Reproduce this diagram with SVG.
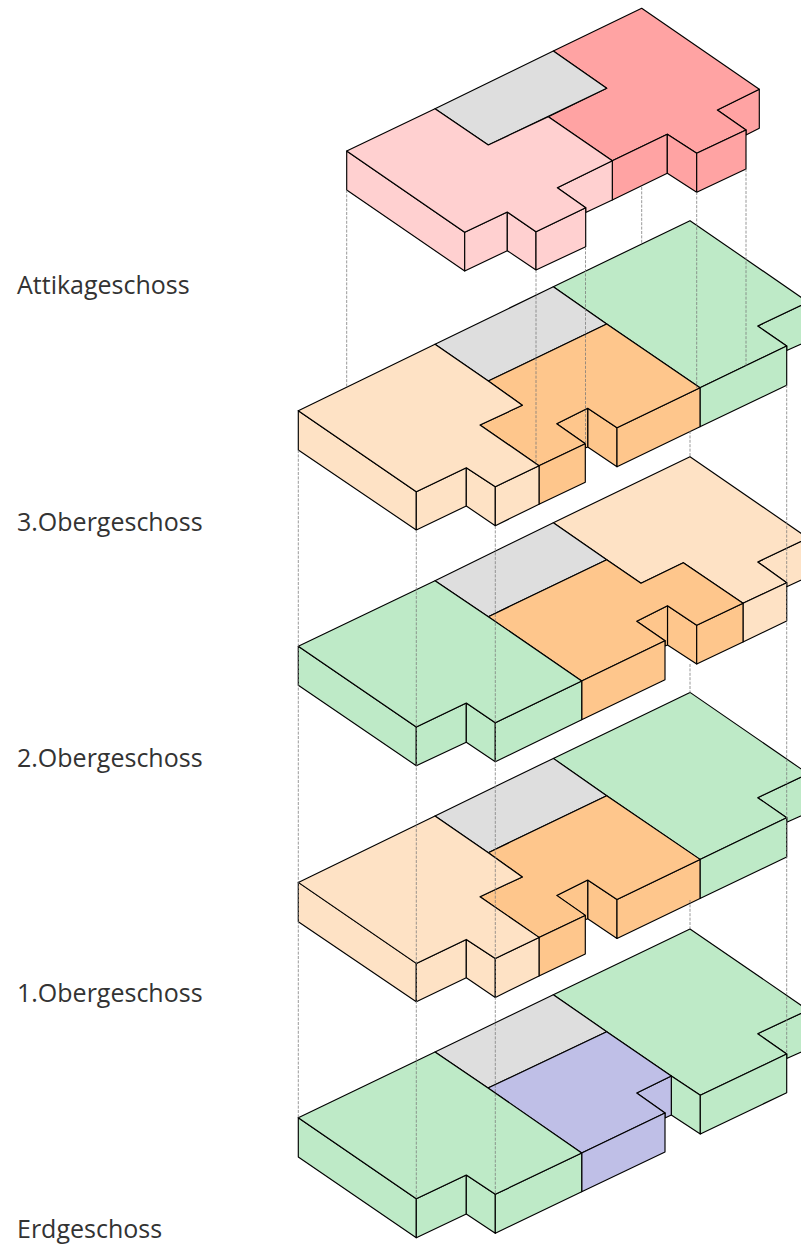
<svg xmlns="http://www.w3.org/2000/svg" width="801" height="1248" viewBox="0 0 801 1248">
<style>
polygon{stroke:#000;stroke-width:1.15;stroke-linejoin:round}
.beige{fill:#fee2c5}.orange{fill:#fec68c}.green{fill:#beeac7}.grey{fill:#dedede}.pink{fill:#ffd0d0}.red{fill:#ffa3a3}.purple{fill:#bfbfe7}
#connectors line{stroke:#777;stroke-width:.75;stroke-dasharray:3 1.4;fill:none}
text{font-family:"Open Sans","Noto Sans",sans-serif;font-size:25px;fill:#333}
</style>
<defs>
<g id="floorA">
<polygon class="green" points="757.7,326 808,302 808,341 786.7,350.5 786.7,346"/>
<polygon class="green" points="553.3,286.7 690,220.7 808,302 757.7,326 786.7,346 700,387.7 606.7,324"/>
<polygon class="green" points="700,387.7 786.7,346 786.7,385.3 700,426.7"/>
<polygon class="grey" points="435,344.3 553.3,286.7 606.7,324 488.3,381"/>
<polygon class="orange" points="587.7,408.3 617,427.7 617,466.7 587.7,447"/>
<polygon class="orange" points="617,427.7 700,387.7 700,426.7 617,466.7"/>
<polygon class="orange" points="556.7,423.7 587.7,408.3 587.7,447 585.3,448 585.3,443.7"/>
<polygon class="orange" points="488.3,381 606.7,324 700,387.7 617,427.7 587.7,408.3 556.7,423.7 585.3,443.7 539,465.7 480,425 522.3,405.3"/>
<polygon class="orange" points="539,465.7 585.3,443.7 585.3,482.3 539,504.3"/>
<polygon class="beige" points="298.3,410.7 298.3,450 416.3,530 416.3,491.7"/>
<polygon class="beige" points="416.3,491.7 466.3,467.7 466.3,506 416.3,530"/>
<polygon class="beige" points="466.3,467.7 495.3,486.7 495.3,525.7 466.3,506"/>
<polygon class="beige" points="495.3,486.7 539,465.7 539,504.3 495.3,525.7"/>
<polygon class="beige" points="298.3,410.7 435,344.3 488.3,381 522.3,405.3 480,425 539,465.7 495.3,486.7 466.3,467.7 416.3,491.7"/>
</g>
</defs>
<g id="erdgeschoss">
<polygon class="green" points="757.7,1033.7 808,1010 808,1049 786.7,1058.5 786.7,1054"/>
<polygon class="green" points="553.3,994.7 690,929 808,1010 757.7,1033.7 786.7,1054 700.3,1095.3 671.3,1076 606.7,1031.7"/>
<polygon class="green" points="671.3,1076 700.3,1095.3 700.3,1134 671.3,1115"/>
<polygon class="green" points="700.3,1095.3 786.7,1054 786.7,1092.7 700.3,1134"/>
<polygon class="grey" points="435,1052 553.3,994.7 606.7,1031.7 488,1088"/>
<polygon class="purple" points="636.7,1093 671.3,1076 671.3,1115 665,1118 665,1113"/>
<polygon class="purple" points="488,1088 606.7,1031.7 671.3,1076 636.7,1093 665,1113 581.7,1153"/>
<polygon class="purple" points="581.7,1153 665,1113 665,1152 581.7,1191.7"/>
<polygon class="green" points="298.3,1117.7 298.3,1157 416.3,1237.7 416.3,1198.7"/>
<polygon class="green" points="416.3,1198.7 466.3,1175 466.3,1214 416.3,1237.7"/>
<polygon class="green" points="466.3,1175 495.3,1194.3 495.3,1233.3 466.3,1214"/>
<polygon class="green" points="495.3,1194.3 581.7,1153 581.7,1191.7 495.3,1233.3"/>
<polygon class="green" points="298.3,1117.7 435,1052 488,1088 581.7,1153 495.3,1194.3 466.3,1175 416.3,1198.7"/>
</g>
<g id="obergeschoss1"><use href="#floorA" y="471.7"/></g>
<g id="obergeschoss2">
<polygon class="beige" points="757.7,562 808,538 808,577 786.7,586.7 786.7,582.7"/>
<polygon class="beige" points="553.3,522.7 690,456.7 808,538 757.7,562 786.7,582.7 743,603.3 683.3,562.7 641,583.3 606.7,559.7"/>
<polygon class="beige" points="743,603.3 786.7,582.7 786.7,621 743,642"/>
<polygon class="grey" points="435,580.7 553.3,522.7 606.7,559.7 488.3,616.7"/>
<polygon class="orange" points="667.5,605.7 696.7,625.3 696.7,664 667.5,645"/>
<polygon class="orange" points="696.7,625.3 743,603.3 743,642 696.7,664"/>
<polygon class="orange" points="636.7,621.3 667.5,605.7 667.5,645 665,646 665,640.7"/>
<polygon class="orange" points="488.3,616.7 606.7,559.7 641,583.3 683.3,562.7 743,603.3 696.7,625.3 667.5,605.7 636.7,621.3 665,640.7 581.7,681"/>
<polygon class="orange" points="581.7,681 665,640.7 665,679.7 581.7,719.7"/>
<polygon class="green" points="298.3,646.3 298.3,685.3 416.3,765.7 416.3,727"/>
<polygon class="green" points="416.3,727 466.3,703 466.3,742.3 416.3,765.7"/>
<polygon class="green" points="466.3,703 495.3,722.7 495.3,761.7 466.3,742.3"/>
<polygon class="green" points="495.3,722.7 581.7,681 581.7,719.7 495.3,761.7"/>
<polygon class="green" points="298.3,646.3 435,580.7 488.3,616.7 581.7,681 495.3,722.7 466.3,703 416.3,727"/>
</g>
<g id="obergeschoss3"><use href="#floorA"/></g>
<g id="attikageschoss">
<polygon class="red" points="717.3,110 759.3,89.3 759.3,128.3 746,135 746,130"/>
<polygon class="red" points="553.3,51 641.7,8.3 759.3,89.3 717.3,110 746,130 696.7,153.3 667.3,134.3 612.3,160.7 548.3,116.7 606.7,88.3"/>
<polygon class="red" points="612.3,160.7 667.3,134.3 667.3,173.3 612.3,200"/>
<polygon class="red" points="667.3,134.3 696.7,153.3 696.7,192.3 667.3,173.3"/>
<polygon class="red" points="696.7,153.3 746,130 746,169 696.7,192.3"/>
<polygon class="grey" points="435,108.7 553.3,51 606.7,88.3 488.3,145"/>
<polygon class="pink" points="557.3,187.7 612.3,160.7 612.3,200 585.7,212.5 585.7,207.7"/>
<polygon class="pink" points="346.7,151 346.7,190 464.7,271 464.7,232.3"/>
<polygon class="pink" points="464.7,232.3 507.3,212 507.3,250.7 464.7,271"/>
<polygon class="pink" points="507.3,212 536,231.7 536,270 507.3,250.7"/>
<polygon class="pink" points="536,231.7 585.7,207.7 585.7,246.7 536,270"/>
<polygon class="pink" points="346.7,151 435,108.7 488.3,145 548.3,116.7 612.3,160.7 557.3,187.7 585.7,207.7 536,231.7 507.3,212 464.7,232.3"/>
</g>
<g id="connectors">
<line x1="346.7" y1="190" x2="346.7" y2="387"/>
<line x1="536" y1="270" x2="536" y2="465"/>
<line x1="585.5" y1="247" x2="585.5" y2="444"/>
<line x1="641.7" y1="187" x2="641.7" y2="244"/>
<line x1="696.7" y1="192" x2="696.7" y2="388"/>
<line x1="746" y1="169" x2="746" y2="366"/>
<line x1="298.3" y1="450" x2="298.3" y2="1118"/>
<line x1="416.3" y1="530" x2="416.3" y2="1199"/>
<line x1="495.3" y1="526" x2="495.3" y2="1194"/>
<line x1="690" y1="431" x2="690" y2="457"/>
<line x1="690" y1="664" x2="690" y2="693"/>
<line x1="690" y1="900" x2="690" y2="929"/>
<line x1="786.7" y1="385" x2="786.7" y2="1054"/>
</g>
<g id="labels">
<text x="17" y="294">Attikageschoss</text>
<text x="17" y="531">3.Obergeschoss</text>
<text x="17" y="767">2.Obergeschoss</text>
<text x="17" y="1002">1.Obergeschoss</text>
<text x="17" y="1238">Erdgeschoss</text>
</g>
</svg>
